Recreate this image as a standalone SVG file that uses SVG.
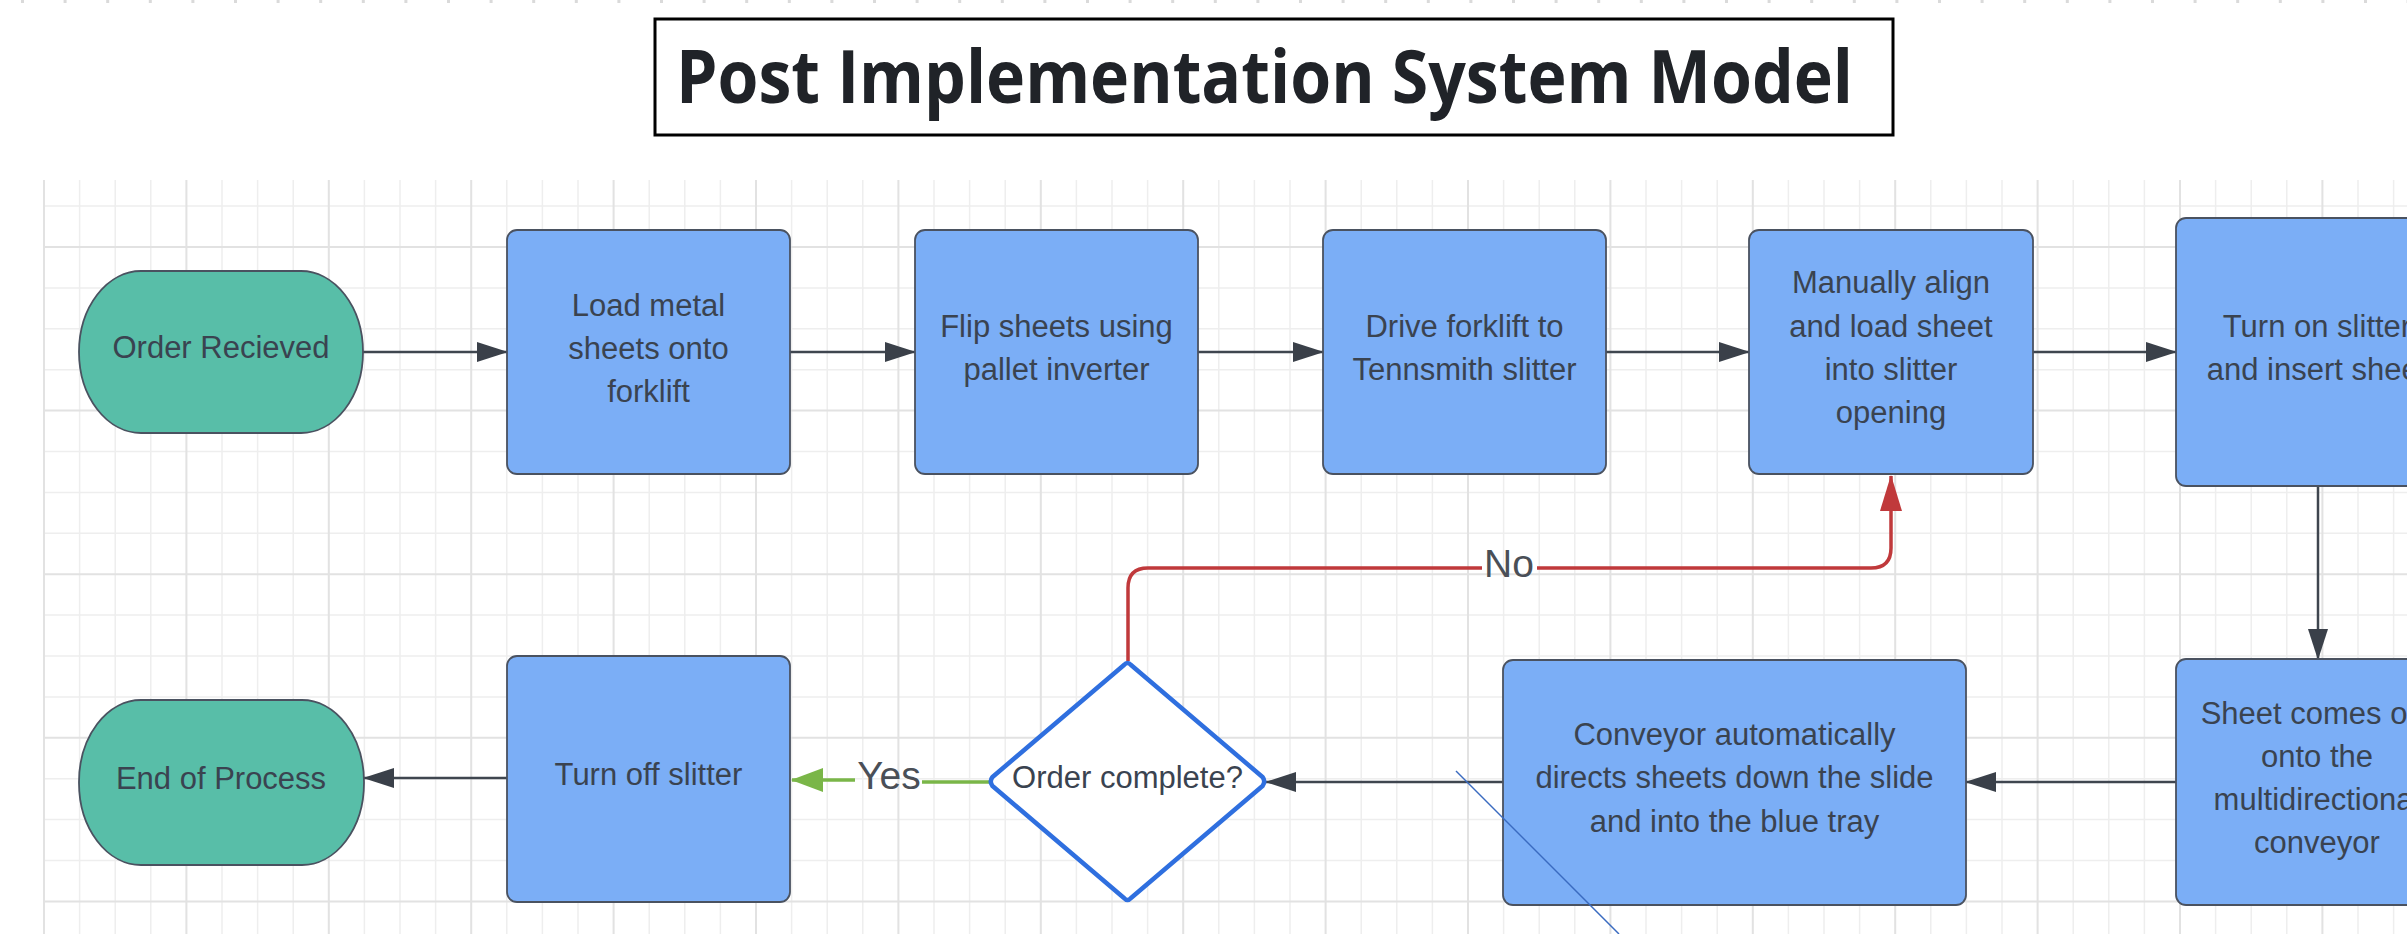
<svg xmlns="http://www.w3.org/2000/svg" width="2407" height="934" viewBox="0 0 2407 934">
<defs>
<style>
.gmin{stroke:#EEEEEE;stroke-width:1.5;fill:none}
.gmaj{stroke:#E2E2E2;stroke-width:2;fill:none}
.box{fill:#7BAEF6;stroke:#4A5260;stroke-width:1.8}
.pill{fill:#58BEA8;stroke:#4A5260;stroke-width:1.8}
.t{font-family:"Liberation Sans",Arial,sans-serif;font-size:31px;fill:#3A4350;text-anchor:middle}
.lbl{font-family:"Liberation Sans",Arial,sans-serif;font-size:39px;fill:#4A4F57;text-anchor:middle}
.con{stroke:#3F464F;stroke-width:2.5;fill:none}
</style>
<marker id="ah" markerUnits="userSpaceOnUse" markerWidth="31" markerHeight="20" viewBox="0 0 31 20" refX="30" refY="10" orient="auto"><path d="M0 0L31 10L0 20Z" fill="#3A4049"/></marker>
<marker id="ahr" markerUnits="userSpaceOnUse" markerWidth="36" markerHeight="22" viewBox="0 0 36 22" refX="35" refY="11" orient="auto"><path d="M0 0L36 11L0 22Z" fill="#C0393B"/></marker>
<marker id="ahg" markerUnits="userSpaceOnUse" markerWidth="32" markerHeight="24" viewBox="0 0 32 24" refX="31" refY="12" orient="auto"><path d="M0 0L32 12L0 24Z" fill="#7AB648"/></marker>
</defs>
<rect width="2407" height="934" fill="#FFFFFF"/>
<g id="grid">
<line x1="21" y1="1.5" x2="2407" y2="1.5" stroke="#DADADA" stroke-width="3" stroke-dasharray="3 39.6"/>
<path class="gmin" d="M79.6 180V934M115.2 180V934M150.8 180V934M222 180V934M257.6 180V934M293.2 180V934M364.4 180V934M400 180V934M435.6 180V934M506.8 180V934M542.4 180V934M578 180V934M649.2 180V934M684.8 180V934M720.4 180V934M791.6 180V934M827.2 180V934M862.8 180V934M934 180V934M969.6 180V934M1005.2 180V934M1076.4 180V934M1112 180V934M1147.6 180V934M1218.8 180V934M1254.4 180V934M1290 180V934M1361.2 180V934M1396.8 180V934M1432.4 180V934M1503.6 180V934M1539.2 180V934M1574.8 180V934M1646 180V934M1681.6 180V934M1717.2 180V934M1788.4 180V934M1824 180V934M1859.6 180V934M1930.8 180V934M1966.4 180V934M2002 180V934M2073.2 180V934M2108.8 180V934M2144.4 180V934M2215.6 180V934M2251.2 180V934M2286.8 180V934M2358 180V934M2393.6 180V934M44 206.1H2407M44 287.9H2407M44 328.8H2407M44 369.7H2407M44 451.5H2407M44 492.4H2407M44 533.3H2407M44 615.1H2407M44 656H2407M44 696.9H2407M44 778.7H2407M44 819.6H2407M44 860.5H2407"/>
<path class="gmaj" d="M44 180V934M186.4 180V934M328.8 180V934M471.2 180V934M613.6 180V934M756 180V934M898.4 180V934M1040.8 180V934M1183.2 180V934M1325.6 180V934M1468 180V934M1610.4 180V934M1752.8 180V934M1895.2 180V934M2037.6 180V934M2180 180V934M2322.4 180V934M44 247H2407M44 410.6H2407M44 574.2H2407M44 737.8H2407M44 901.4H2407"/>
</g>
<g id="title">
<rect x="655" y="19" width="1238" height="116" fill="#FFFFFF" stroke="#000000" stroke-width="3"/>
<text x="676" y="103" font-family="'Open Sans','Noto Sans',sans-serif" font-weight="700" font-size="73" fill="#202328" textLength="1177" lengthAdjust="spacingAndGlyphs">Post Implementation System Model</text>
</g>
<g id="connectors">
<line class="con" x1="363" y1="352" x2="507" y2="352" marker-end="url(#ah)"/>
<line class="con" x1="790" y1="352" x2="915" y2="352" marker-end="url(#ah)"/>
<line class="con" x1="1198" y1="352" x2="1323" y2="352" marker-end="url(#ah)"/>
<line class="con" x1="1606" y1="352" x2="1749" y2="352" marker-end="url(#ah)"/>
<line class="con" x1="2033" y1="352" x2="2176" y2="352" marker-end="url(#ah)"/>
<line class="con" x1="2318" y1="486" x2="2318" y2="659" stroke="#6A7079" marker-end="url(#ah)"/>
<line class="con" x1="2176" y1="782" x2="1966" y2="782" marker-end="url(#ah)"/>
<line class="con" x1="1503" y1="782" x2="1266" y2="782" marker-end="url(#ah)"/>
<line class="con" x1="507" y1="778" x2="364" y2="778" marker-end="url(#ah)"/>
<g id="edge-yes">
<line x1="989" y1="782" x2="922" y2="782" stroke="#7AB648" stroke-width="3.5"/>
<line x1="855" y1="780" x2="792" y2="780" stroke="#7AB648" stroke-width="3.5" marker-end="url(#ahg)"/>
<text class="lbl" x="889" y="789">Yes</text>
</g>
<g id="edge-no">
<path d="M1128 661V588Q1128 568 1148 568H1482" stroke="#C0393B" stroke-width="3.5" fill="none"/>
<path d="M1537 568H1871Q1891 568 1891 548V476" stroke="#C0393B" stroke-width="3.5" fill="none" marker-end="url(#ahr)"/>
<text class="lbl" x="1509" y="577">No</text>
</g>
</g>
<g id="n-order-received">
<rect class="pill" x="79" y="271" width="284" height="162" rx="62" ry="81"/>
<text class="t" x="221" y="358">Order Recieved</text>
</g>
<g id="n-load">
<rect class="box" x="507" y="230" width="283" height="244" rx="10"/>
<text class="t" x="648.5" y="316">Load metal</text>
<text class="t" x="648.5" y="359">sheets onto</text>
<text class="t" x="648.5" y="402">forklift</text>
</g>
<g id="n-flip">
<rect class="box" x="915" y="230" width="283" height="244" rx="10"/>
<text class="t" x="1056.5" y="337">Flip sheets using</text>
<text class="t" x="1056.5" y="380">pallet inverter</text>
</g>
<g id="n-drive">
<rect class="box" x="1323" y="230" width="283" height="244" rx="10"/>
<text class="t" x="1464.5" y="337">Drive forklift to</text>
<text class="t" x="1464.5" y="380">Tennsmith slitter</text>
</g>
<g id="n-align">
<rect class="box" x="1749" y="230" width="284" height="244" rx="10"/>
<text class="t" x="1891" y="293">Manually align</text>
<text class="t" x="1891" y="337">and load sheet</text>
<text class="t" x="1891" y="380">into slitter</text>
<text class="t" x="1891" y="423">opening</text>
</g>
<g id="n-turn-on">
<rect class="box" x="2176" y="218" width="284" height="268" rx="10"/>
<text class="t" x="2317" y="337">Turn on slitter</text>
<text class="t" x="2317" y="380">and insert sheet</text>
</g>
<g id="n-sheet-out">
<rect class="box" x="2176" y="659" width="284" height="246" rx="10"/>
<text class="t" x="2317" y="724">Sheet comes out</text>
<text class="t" x="2317" y="767">onto the</text>
<text class="t" x="2317" y="810">multidirectional</text>
<text class="t" x="2317" y="853">conveyor</text>
</g>
<g id="n-conveyor">
<rect class="box" x="1503" y="660" width="463" height="245" rx="10"/>
<text class="t" x="1734.5" y="745">Conveyor automatically</text>
<text class="t" x="1734.5" y="788">directs sheets down the slide</text>
<text class="t" x="1734.5" y="832">and into the blue tray</text>
</g>
<g id="n-decision">
<path d="M1124 665Q1127.5 661 1131 665L1262.5 777Q1266 781.5 1262.5 786L1131 898Q1127.5 902 1124 898L992.5 786Q989 781.5 992.5 777Z" fill="#FFFFFF" stroke="#2F6FDF" stroke-width="4.5" stroke-linejoin="round"/>
<text class="t" x="1127.5" y="788">Order complete?</text>
</g>
<g id="n-turn-off">
<rect class="box" x="507" y="656" width="283" height="246" rx="10"/>
<text class="t" x="648.5" y="785">Turn off slitter</text>
</g>
<g id="n-end">
<rect class="pill" x="79" y="700" width="285" height="165" rx="62" ry="82"/>
<text class="t" x="221" y="789">End of Process</text>
</g>
<line id="stray-line" x1="1456" y1="771" x2="1619" y2="934" stroke="#3A6BC0" stroke-width="1.5"/>
</svg>
